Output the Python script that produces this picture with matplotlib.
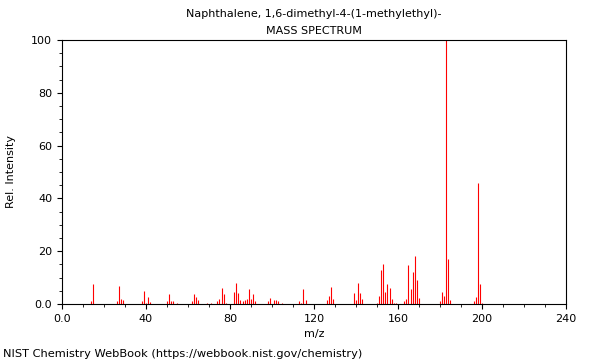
import numpy as np
from matplotlib import pyplot as plt
from matplotlib.ticker import MultipleLocator, FixedLocator

mz = [14, 15, 26, 27, 28, 29, 38, 39, 40, 41, 42,
      50, 51, 52, 53, 55, 62, 63, 64, 65, 69, 71, 74, 75, 76, 77, 78,
      82, 83, 84, 85, 86, 87, 88, 89, 90, 91, 92, 98, 99, 101, 102, 103, 105,
      113, 114, 115, 116, 126, 127, 128, 129,
      139, 140, 141, 142, 143, 150, 151, 152, 153, 154, 155, 156, 157, 158, 159,
      163, 164, 165, 166, 167, 168, 169, 170, 180, 181, 182, 183, 184, 185,
      196, 197, 198, 199, 200]
intensity = [1.0, 7.6, 1.0, 6.7, 1.8, 1.5, 1.0, 5.0, 0.5, 2.6, 0.6,
             1.0, 3.6, 1.0, 1.0, 0.5, 1.0, 3.9, 2.5, 1.5, 0.5, 0.5, 1.0, 2.0, 6.0, 3.8, 0.5,
             4.5, 8.0, 4.0, 1.5, 1.0, 1.5, 2.0, 5.7, 2.0, 3.8, 1.0, 1.0, 2.3, 1.5, 1.5, 1.0, 0.5,
             1.0, 0.5, 5.8, 1.5, 1.5, 3.2, 6.3, 2.0,
             4.2, 1.5, 8.0, 4.2, 2.0, 0.5, 3.0, 12.9, 15.0, 4.5, 7.6, 6.0, 2.0, 0.5, 0.5,
             1.3, 2.0, 14.9, 5.8, 12.3, 18.3, 9.0, 2.3, 1.0, 4.5, 3.2, 100.0, 17.0, 1.5,
             1.0, 2.8, 46.0, 7.6, 0.5]

fig = plt.figure(figsize=[6, 3.6], dpi=100)
ax = fig.add_axes([0.1033, 0.1556, 0.84, 0.7333])

ax.vlines(mz, 0, intensity, colors='red', linewidth=0.8)

ax.set_xlim(0, 240)
ax.set_ylim(0, 100)
ax.xaxis.set_major_locator(FixedLocator([0, 40, 80, 120, 160, 200, 240]))
ax.set_xticklabels(['0.0', '40', '80', '120', '160', '200', '240'])
ax.xaxis.set_minor_locator(MultipleLocator(10))
ax.yaxis.set_major_locator(FixedLocator([0, 20, 40, 60, 80, 100]))
ax.set_yticklabels(['0.0', '20', '40', '60', '80', '100'])
ax.yaxis.set_minor_locator(MultipleLocator(5))
ax.tick_params(labelsize=8)

ax.set_xlabel('m/z', size=8)
ax.set_ylabel('Rel. Intensity', size=8, labelpad=11)
fig.text(0.523, 0.962, 'Naphthalene, 1,6-dimethyl-4-(1-methylethyl)-', ha='center', va='center', size=8)
fig.text(0.523, 0.915, 'MASS SPECTRUM', ha='center', va='center', size=8)
fig.text(0.005, 0.018, 'NIST Chemistry WebBook (https://webbook.nist.gov/chemistry)', ha='left', va='center', size=8.2)

fig.savefig('out.png', dpi=100)
